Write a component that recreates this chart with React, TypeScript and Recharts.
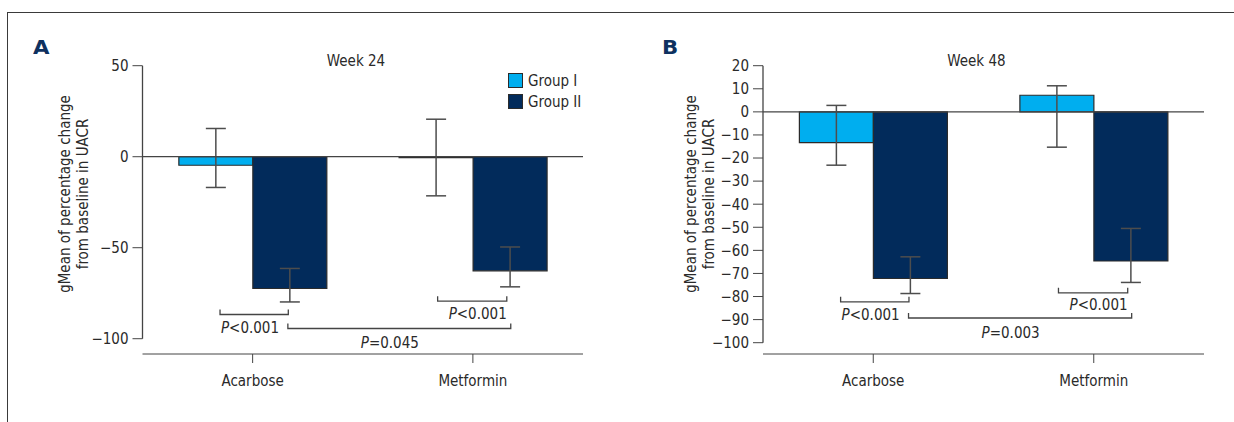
import React from 'react';
import {
  BarChart, Bar, XAxis, YAxis, ErrorBar, ReferenceLine, ReferenceDot, Legend,
} from 'recharts';

// values (gMean % change in UACR)
const categories = ['Acarbose', 'Metformin'];
const groupNames = ['Group I', 'Group II'];

const wk24Group1 = [-4.7, -0.5];
const wk24Group1Low = [-16.9, -21.5];
const wk24Group1High = [15.5, 20.6];
const wk24Group2 = [-72.4, -62.7];
const wk24Group2Low = [-79.8, -71.5];
const wk24Group2High = [-61.4, -49.6];

const wk48Group1 = [-13.3, 7.2];
const wk48Group1Low = [-23.1, -15.3];
const wk48Group1High = [2.8, 11.3];
const wk48Group2 = [-72.2, -64.6];
const wk48Group2Low = [-78.7, -73.9];
const wk48Group2High = [-62.8, -50.5];

const wk24Ticks = [50, 0, -50, -100];
const wk48Ticks = [20, 10, 0, -10, -20, -30, -40, -50, -60, -70, -80, -90, -100];

// within-group, within-group, between-group
const wk24PValues = ['<0.001', '<0.001', '=0.045'];
const wk48PValues = ['<0.001', '<0.001', '=0.003'];

const COLORS = {
  g1: '#00aeef',
  g2: '#022b5b',
  edge: '#2b2b2b',
  line: '#444',
  err: '#4d4d4d',
  text: '#2a2a2a',
  letter: '#0e3160',
};
const FONT = '"DejaVu Sans Condensed", "Liberation Sans", sans-serif';
const FS = 15;

// bracket geometry: x in category units (0..2, one per category), y in value units
const bracketX = [
  { x1: 0.352, x2: 0.662, tx: 0.488 },
  { x1: 1.34, x2: 1.654, tx: 1.522 },
  { x1: 0.66, x2: 1.672, tx: 1.123 },
];
const wk24BracketY = [{ y: -86.7, ty: -94.2 }, { y: -79.4, ty: -86.2 }, { y: -94.4, ty: -102.3 }];
const wk48BracketY = [{ y: -82.3, ty: -87.8 }, { y: -78.4, ty: -83.8 }, { y: -89.3, ty: -95.6 }];

const build = (g1: number[], g1l: number[], g1h: number[], g2: number[], g2l: number[], g2h: number[]) =>
  categories.map((name, i) => ({
    name,
    g1: g1[i],
    g2: g2[i],
    e1: [g1[i] - g1l[i], g1h[i] - g1[i]],
    e2: [g2[i] - g2l[i], g2h[i] - g2[i]],
  }));

const wk24Data = build(wk24Group1, wk24Group1Low, wk24Group1High, wk24Group2, wk24Group2Low, wk24Group2High);
const wk48Data = build(wk48Group1, wk48Group1Low, wk48Group1High, wk48Group2, wk48Group2Low, wk48Group2High);

const fmtTick = (v: number) => (v < 0 ? `\u2212${Math.abs(v)}` : `${v}`);
const cx = (v: number) => v / categories.length; // helper axis runs 0..1

const bracketShape = (p: any) => (
  <path
    d={`M${p.x1},${p.y1 - 5}V${p.y1}H${p.x2}V${p.y2 - 5}`}
    fill="none"
    stroke={COLORS.line}
    strokeWidth={1.3}
  />
);

const pLabel = (text: string) => (props: any) => {
  const vb = props.viewBox || {};
  return (
    <text x={vb.x} y={vb.y} textAnchor="middle" dominantBaseline="central" fontFamily={FONT} fontSize={FS} fill={COLORS.text}>
      <tspan fontStyle="italic">P</tspan>{text}
    </text>
  );
};

const YLabel = ({ x, y }: { x: number; y: number }) => (
  <text transform={`translate(${x},${y}) rotate(-90)`} textAnchor="middle" fontFamily={FONT} fontSize={15} fill={COLORS.text}>
    <tspan x={0} y={0}>gMean of percentage change</tspan>
    <tspan x={0} y={18}>from baseline in UACR</tspan>
  </text>
);

const LegendBox = (props: any) => (
  <div style={{ fontFamily: FONT, fontSize: FS, color: COLORS.text }}>
    {(props.payload || []).map((it: any) => (
      <div key={it.value} style={{ display: 'flex', alignItems: 'center', height: 21 }}>
        <span style={{ width: 13, height: 13, background: it.color, border: `1.5px solid ${COLORS.edge}`, marginRight: 5 }} />
        <span>{it.value}</span>
      </div>
    ))}
  </div>
);

const Panel = ({ data, ticks, domain, pvals, bracketY, margin, yLabelX, legend }: any) => (
  <BarChart width={617} height={422} data={data} margin={margin} barCategoryGap="16.5%" barGap={0}>
    <XAxis
      xAxisId="cat"
      dataKey="name"
      tickSize={9}
      tickMargin={12}
      height={30}
      stroke={COLORS.line}
      tick={{ fill: COLORS.text, fontSize: FS, fontFamily: FONT }}
    />
    <XAxis xAxisId="num" type="number" domain={[0, 1]} allowDataOverflow hide />
    <YAxis
      width={60}
      domain={domain}
      ticks={ticks}
      interval={0}
      allowDataOverflow
      axisLine={false}
      tickSize={10}
      tickMargin={4}
      stroke={COLORS.line}
      tickFormatter={fmtTick}
      tick={{ fill: COLORS.text, fontSize: FS, fontFamily: FONT }}
      label={{ content: () => <YLabel x={yLabelX} y={194} /> }}
    />
    <ReferenceLine xAxisId="num" segment={[{ x: 0, y: ticks[ticks.length - 1] }, { x: 0, y: ticks[0] }]} stroke={COLORS.line} strokeWidth={1.3} />
    <Bar xAxisId="cat" dataKey="g1" name={groupNames[0]} fill={COLORS.g1} stroke={COLORS.edge} strokeWidth={1.2} isAnimationActive={false}>
      <ErrorBar dataKey="e1" width={10} stroke={COLORS.err} strokeWidth={1.5} isAnimationActive={false} />
    </Bar>
    <Bar xAxisId="cat" dataKey="g2" name={groupNames[1]} fill={COLORS.g2} stroke={COLORS.edge} strokeWidth={1.2} isAnimationActive={false}>
      <ErrorBar dataKey="e2" width={10} stroke={COLORS.err} strokeWidth={1.5} isAnimationActive={false} />
    </Bar>
    <ReferenceLine xAxisId="num" y={0} stroke={COLORS.line} strokeWidth={1.3} />
    {bracketX.map((b, i) => (
      <ReferenceLine
        key={`br${i}`}
        xAxisId="num"
        segment={[{ x: cx(b.x1), y: bracketY[i].y }, { x: cx(b.x2), y: bracketY[i].y }]}
        shape={bracketShape}
      />
    ))}
    {bracketX.map((b, i) => (
      <ReferenceDot
        key={`pl${i}`}
        xAxisId="num"
        x={cx(b.tx)}
        y={bracketY[i].ty}
        r={0}
        fill="none"
        stroke="none"
        label={{ content: pLabel(pvals[i]) }}
      />
    ))}
    {legend && (
      <Legend
        layout="vertical"
        align="center"
        verticalAlign="middle"
        content={<LegendBox />}
        wrapperStyle={{ position: 'absolute', left: 508, top: 70, width: 'auto', height: 'auto' }}
      />
    )}
  </BarChart>
);

const abs = (left: number, top: number): React.CSSProperties => ({ position: 'absolute', left, top });
const letterStyle: React.CSSProperties = {
  fontFamily: '"DejaVu Sans", sans-serif', fontWeight: 900, fontSize: 19, color: COLORS.letter,
  transform: 'scaleX(1.12)', transformOrigin: 'left', lineHeight: '22px',
};
const titleStyle: React.CSSProperties = {
  width: 100, textAlign: 'center', fontFamily: FONT, fontSize: FS, color: COLORS.text, lineHeight: '20px',
};

export default function App() {
  return (
    <div style={{ position: 'absolute', left: 0, top: 0, width: 1234, height: 422, background: '#fff', overflow: 'hidden' }}>
      <div style={{ ...abs(7, 12), width: 1227, height: 410, borderTop: '1px solid #3a3a3a', borderLeft: '1px solid #3a3a3a' }} />

      <div style={abs(0, 0)}>
        <Panel
          data={wk24Data}
          ticks={wk24Ticks}
          domain={[-108.4, 50]}
          pvals={wk24PValues}
          bracketY={wk24BracketY}
          margin={{ top: 65.7, right: 34, bottom: 38, left: 82.5 }}
          yLabelX={70}
          legend
        />
      </div>
      <div style={abs(617, 0)}>
        <Panel
          data={wk48Data}
          ticks={wk48Ticks}
          domain={[-104.9, 20]}
          pvals={wk48PValues}
          bracketY={wk48BracketY}
          margin={{ top: 65.7, right: 30, bottom: 38, left: 86 }}
          yLabelX={78.5}
        />
      </div>

      <div style={{ ...abs(33, 36), ...letterStyle }}>A</div>
      <div style={{ ...abs(662, 36), ...letterStyle }}>B</div>

      <div style={{ ...abs(306, 51), ...titleStyle }}>Week 24</div>
      <div style={{ ...abs(926.4, 51), ...titleStyle }}>Week 48</div>
    </div>
  );
}
